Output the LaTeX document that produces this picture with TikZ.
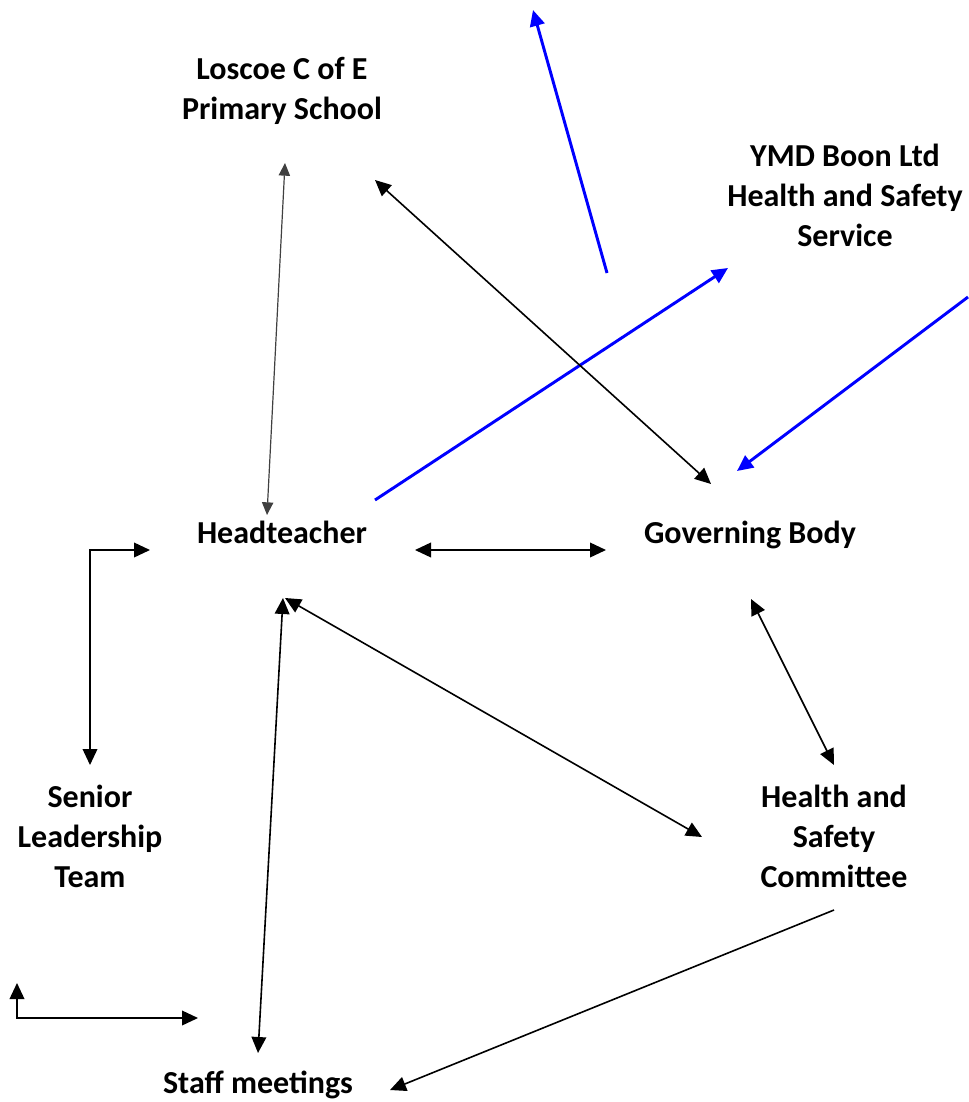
\documentclass[tikz,border=0pt]{standalone}
\usepackage{fontspec}
\setmainfont{Carlito}
\usetikzlibrary{arrows.meta}
\definecolor{linkblue}{RGB}{0,0,255}
\begin{document}
\begin{tikzpicture}[x=0.75pt,y=-0.75pt,
  lbl/.style={align=center,anchor=base,inner sep=0pt,font=\fontsize{24}{30}\selectfont\bfseries},
  tip/.style={-{Triangle[length=12pt,width=11pt]}},
  dtip/.style={{Triangle[length=12pt,width=11pt]}-{Triangle[length=12pt,width=11pt]}},
  stip/.style={{Triangle[length=9.5pt,width=8.5pt]}-{Triangle[length=9.5pt,width=8.5pt]}},
  blk/.style={draw=black,line width=1.2pt},
  thinblk/.style={draw=black!75,line width=0.9pt},
  blu/.style={draw=linkblue,line width=2.2pt}]
\useasboundingbox (0,0) rectangle (968,1102);

% text nodes (base = baseline of last line)
\node[lbl] (loscoe) at (282,120) {Loscoe C of E\\Primary School};
\node[lbl] (ymd) at (845,246) {YMD Boon Ltd\\Health and Safety\\Service};
\node[lbl] (head) at (282,543) {Headteacher};
\node[lbl] (gov) at (750,543) {Governing Body};
\node[lbl] (slt) at (90,887) {Senior\\Leadership\\Team};
\node[lbl] (hsc) at (834,887) {Health and\\Safety\\Committee};
\node[lbl] (staff) at (258,1093) {Staff meetings};

% connector end points
\coordinate (lhA) at (285,163);  \coordinate (lhB) at (267,515);
\coordinate (lgA) at (375,180);  \coordinate (lgB) at (711,484);
\coordinate (upA) at (607,273);  \coordinate (upB) at (533,10);
\coordinate (hyA) at (375,500);  \coordinate (hyB) at (728,268);
\coordinate (ygA) at (968,297);  \coordinate (ygB) at (737,471);
\coordinate (hgA) at (415,550);  \coordinate (hgB) at (606,550);
\coordinate (elA) at (150,550);  \coordinate (elC) at (90,550);  \coordinate (elB) at (90,765);
\coordinate (hsA) at (283,598);  \coordinate (hsB) at (258,1053);
\coordinate (hcA) at (285,598);  \coordinate (hcB) at (702,837);
\coordinate (gcA) at (751,599);  \coordinate (gcB) at (834,765);
\coordinate (csA) at (834,910);  \coordinate (csB) at (390,1090);
\coordinate (smA) at (198,1018); \coordinate (smC) at (17,1018); \coordinate (smB) at (17,983);

% blue connectors
\draw[blu,tip] (upA) -- (upB);
\draw[blu,tip] (hyA) -- (hyB);
\draw[blu,tip] (ygA) -- (ygB);

% black connectors
\draw[thinblk,stip] (lhA) -- (lhB);
\draw[blk,dtip] (lgA) -- (lgB);
\draw[blk,dtip] (hgA) -- (hgB);
\draw[blk,dtip] (elA) -- (elC) -- (elB);
\draw[blk,dtip] (hsA) -- (hsB);
\draw[blk,dtip] (hcA) -- (hcB);
\draw[blk,dtip] (gcA) -- (gcB);
\draw[blk,tip] (csA) -- (csB);
\draw[blk,dtip] (smA) -- (smC) -- (smB);
\end{tikzpicture}
\end{document}
